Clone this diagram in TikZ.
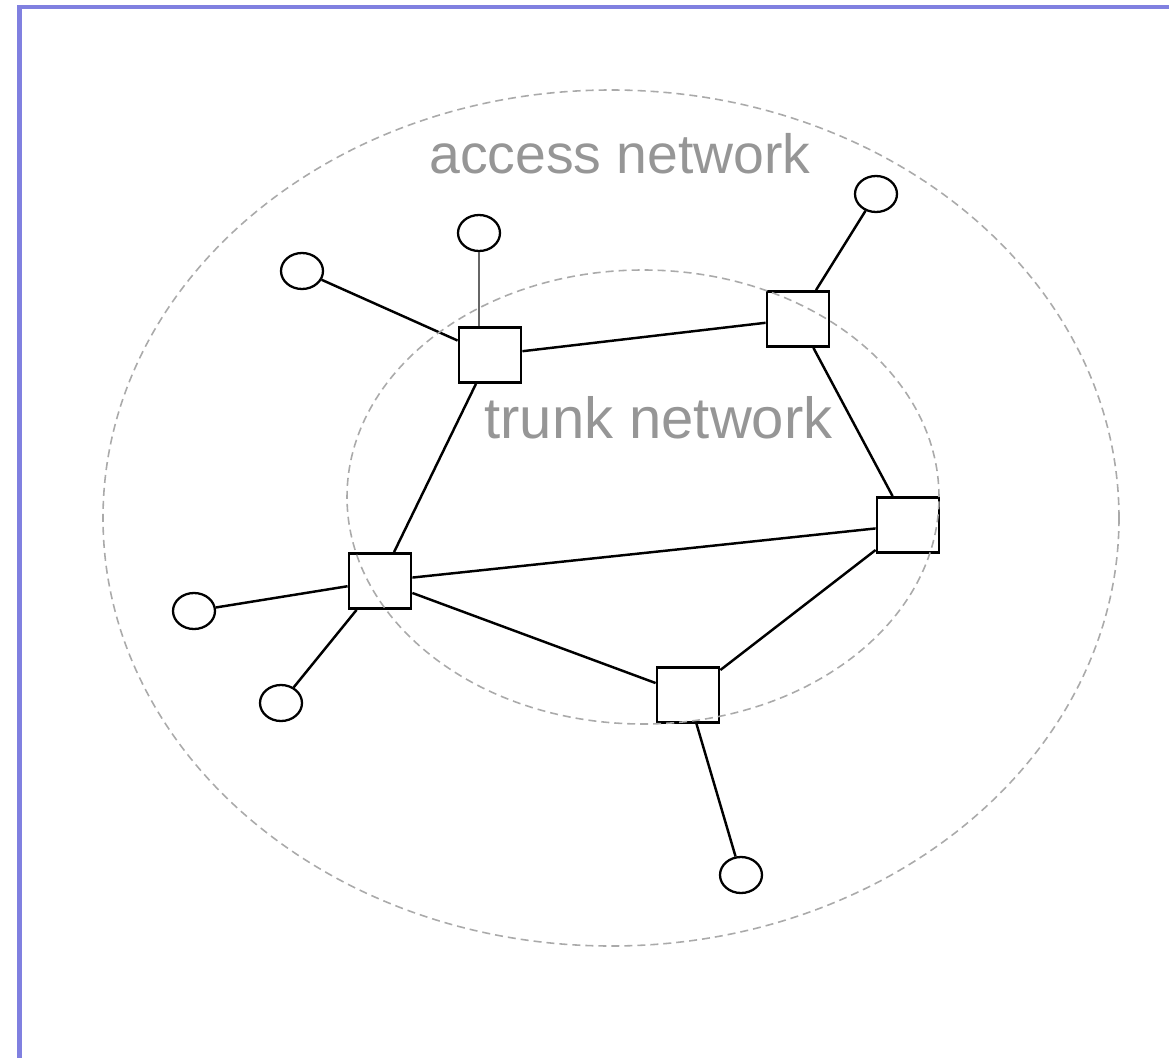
\documentclass[tikz,border=0pt]{standalone}
\usepackage{fontspec}
\setmainfont{Liberation Sans}
\usepackage{tikz}
\usetikzlibrary{shapes.geometric}
\definecolor{framecol}{RGB}{128,128,224}
\definecolor{labelcol}{RGB}{150,150,150}
\definecolor{regioncol}{RGB}{170,170,170}
\tikzset{switch/.style={draw,line width=1.6pt,minimum width=1.24cm,minimum height=1.1cm,inner sep=0pt}}
\tikzset{host/.style={draw,ellipse,line width=1.3pt,minimum width=0.84cm,minimum height=0.72cm,inner sep=0pt}}
\tikzset{region/.style={draw=regioncol,ellipse,dash pattern=on 0.16cm off 0.1cm,line width=0.9pt,inner sep=0pt}}
\tikzset{tag/.style={text=labelcol,anchor=base}}

\begin{document}
\begin{tikzpicture}[line width=1.4pt]
		\useasboundingbox (0,0) rectangle (23.38,-21.16);
		\draw[framecol,line width=2.6pt] (0.39,-21.2) -- (0.39,-0.14) -- (23.4,-0.14);

		\node[tag,font=\fontsize{31.5}{37}\selectfont](accesslbl) at (12.4,-3.46){access network};
		\node[tag,font=\fontsize{33}{39}\selectfont](trunklbl) at (13.17,-8.76){trunk network};

		\node[host](c1) at (9.58,-4.66){};
		\node[host](c2) at (6.04,-5.42){};
		\node[host](c3) at (17.52,-3.88){};
		\node[host](c4) at (3.88,-12.22){};
		\node[host](c5) at (5.62,-14.06){};
		\node[host](c6) at (14.82,-17.5){};

		\node[switch](s1) at (9.8,-7.1){};
		\node[switch](s2) at (15.96,-6.38){};
		\node[switch](s3) at (18.16,-10.5){};
		\node[switch](s4) at (7.6,-11.62){};
		\node[switch](s5) at (13.76,-13.9){};

		% trunk links
		\draw (s1) -- (s2);
		\draw (s2) -- (s3);
		\draw (s1) -- (s4);
		\draw (s4) -- (s3);
		\draw (s4) -- (s5);
		\draw (s5) -- (s3);

		% access links
		\draw[black!60] (c1) -- (c1 |- s1.north);
		\draw (c2) -- (s1);
		\draw (c3) -- (s2);
		\draw (c4) -- (s4);
		\draw (c5) -- (s4);
		\draw (c6) -- (s5);

		% the two network regions
		\node[region,minimum width=20.32cm,minimum height=17.12cm](outer) at (12.22,-10.36){};
		\node[region,minimum width=11.84cm,minimum height=9.08cm](inner) at (12.86,-9.94){};
	\end{tikzpicture}
\end{document}
